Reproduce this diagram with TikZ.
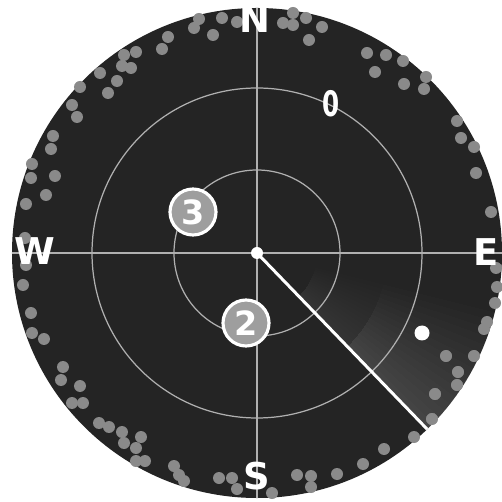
\documentclass[tikz,border=0pt]{standalone}
\usepackage{fontspec}
\setmainfont{DejaVu Sans}
\usetikzlibrary{positioning}
\definecolor{ScopeBg}{HTML}{242424}
\definecolor{RingGray}{HTML}{B0B0B0}
\definecolor{DotGray}{HTML}{8A8A8A}
\definecolor{MarkGray}{HTML}{9E9E9E}

\begin{document}
\begin{tikzpicture}[x=0.02cm, y=0.02cm,
    ring/.style={draw=RingGray, line width=0.7pt},
    blip/.style={fill=DotGray},
    compass/.style={text=white, inner sep=0pt, font=\fontsize{21}{21}\selectfont\bfseries},
    target/.style={circle, draw=white, line width=1.8pt, fill=MarkGray, minimum size=0.92cm, inner sep=0pt, text=white, font=\fontsize{19}{19}\selectfont\bfseries}]
    \useasboundingbox (-257,-249) rectangle (244,253);

    % scope face
    \fill[ScopeBg] (0,0) circle (245);

    % echoes along the rim
    \foreach \px/\py in {199/19, 222/18, 194/28, 213/35, 168/37, 162/49, 136/52, 124/55, 122/66, 131/68,
        100/73, 117/81, 80/87, 108/93, 72/105, 77/117, 53/136, 51/149, 32/164, 55/176, 31/178, 46/195,
        26/204, 25/238, 237/22, 293/13, 283/23, 293/25, 306/18, 322/27, 309/40, 367/53, 386/55, 375/72,
        403/61, 426/77, 404/84, 424/89, 457/121, 461/138, 474/147, 476/173, 491/212,
        26/265, 23/285, 31/313, 32/333, 44/339, 63/367, 61/380, 80/386, 72/403, 83/403, 99/423, 109/427,
        122/432, 141/437, 124/443, 136/448, 136/461, 145/461, 174/466, 179/475, 184/481, 219/478, 232/478,
        237/489, 496/268, 497/287, 495/303, 487/322, 484/329, 474/356, 446/356, 458/372, 457/385, 435/394,
        432/419, 414/437, 384/449, 363/464, 337/474, 311/476, 297/475, 311/487, 272/493}
        \fill[blip] (\px-257, 253-\py) circle (6);

    % sweep glow
    \foreach \r in {60,130}
        \foreach \e in {-44,-42,...,-14}
            \fill[white, opacity=0.009] (-46:\r) arc[start angle=-46, end angle=\e, radius=\r]
                -- (\e:245) arc[start angle=\e, end angle=-46, radius=245] -- cycle;

    % range rings
    \draw[ring] (0,0) circle (83);
    \draw[ring] (0,0) circle (165);
    \coordinate (west) at (180:245);
    \coordinate (east) at (0:245);
    \coordinate (north) at (90:245);
    \coordinate (south) at (270:245);
    \draw[ring] (west) -- (east);
    \draw[ring] (north) -- (south);

    % sweep
    \coordinate (sweepEnd) at (-46:245);
    \draw[white, line width=1.7pt] (0,0) -- (sweepEnd);
    \fill[white] (0,0) circle (6);
    \fill[white] (165,-80) circle (7.5);

    % targets
    \node (tgtThree) [target] at (-64,41) {3};
    \node (tgtTwo) [target] at (-11,-70) {2};
    \node (tgtZero) [text=white, xscale=0.7, font=\fontsize{20}{20}\selectfont\bfseries] at (74,149) {0};

    % compass letters
    \node (labN) [compass] at (-2,234) {N};
    \node (labW) [compass] at (-222,2) {W};
    \node (labE) [compass, anchor=west] at (216,1) {E};
    \node (labS) [compass] at (0,-223) {S};
\end{tikzpicture}
\end{document}
